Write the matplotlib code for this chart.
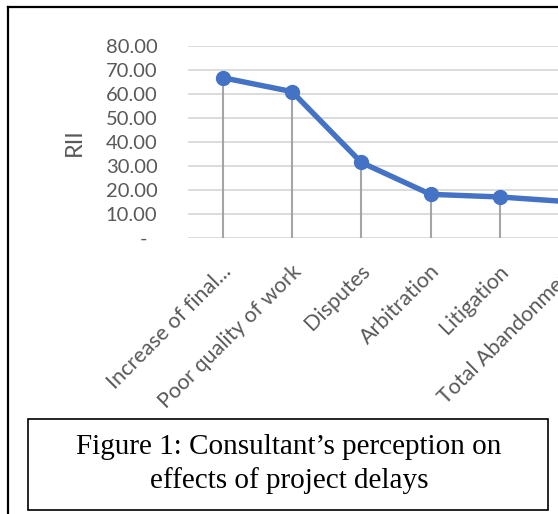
import matplotlib
matplotlib.use('Agg')
import matplotlib.pyplot as plt
import matplotlib.patches as patches
import matplotlib.transforms as mtransforms
from matplotlib.lines import Line2D

# Data
categorias = ['Increase of final...', 'Poor quality of work', 'Disputes',
              'Arbitration', 'Litigation', 'Total Abandonment']
rii = [66.8, 61.0, 31.5, 18.2, 17.1, 15.1]
yticks = [0, 10, 20, 30, 40, 50, 60, 70, 80]

W, H = 558, 514
fig = plt.figure(figsize=(W / 100, H / 100), dpi=100)
plt.rcParams['font.family'] = ['Lato', 'DejaVu Sans']

# axes in pixel coords (plot area runs past the right edge, as in the crop)
left_px, top_px, bottom_px = 188, 46, 238
step_px = 69.3
width_px = step_px * len(categorias)
ax = fig.add_axes([left_px / W, 1 - bottom_px / H, width_px / W, (bottom_px - top_px) / H])

x = list(range(len(categorias)))
ax.vlines(x, 0, rii, color='#A5A5A5', lw=1.5, zorder=2)
ax.plot(x, rii, color='#4472C4', lw=3.9, marker='o', ms=10, zorder=3,
        solid_capstyle='round')

ax.set_xlim(-0.5, len(categorias) - 0.5)
ax.set_ylim(0, 80)
ax.set_yticks(yticks)
ax.set_yticklabels(['-  '] + ['%.2f' % v for v in yticks[1:]])
ax.grid(axis='y', color='#D9D9D9', lw=1.3, zorder=0)
ax.set_axisbelow(True)
for s in ax.spines.values():
    s.set_visible(False)
ax.tick_params(axis='y', length=0, pad=22, labelsize=14.5, labelcolor='#595959')
ax.tick_params(axis='x', length=0, pad=0)
ax.set_xticks(x)
ax.set_xticklabels(categorias, rotation=45, ha='right', va='center',
                   rotation_mode='anchor', fontsize=15.5, color='#595959')
off = mtransforms.ScaledTranslation(6 / 100, -30 / 100, fig.dpi_scale_trans)
for lab in ax.get_xticklabels():
    lab.set_transform(lab.get_transform() + off)

fig.text(74 / W, 1 - 142 / H, 'RII', rotation=90, ha='center', va='center',
         fontsize=17, color='#595959')

# outer frame (left and top edges visible)
fig.add_artist(Line2D([7.5 / W, 7.5 / W], [0, 1 - 7 / H], color='black', lw=1.6))
fig.add_artist(Line2D([7.5 / W, 1], [1 - 7 / H, 1 - 7 / H], color='black', lw=1.6))

# caption box
fig.add_artist(patches.Rectangle((28 / W, 1 - 510 / H), (548 - 28) / W, (510 - 419) / H,
                                 transform=fig.transFigure, fill=False,
                                 edgecolor='black', lw=1.2))
fig.text(289 / W, 1 - 464 / H, 'Figure 1: Consultant\u2019s perception on\neffects of project delays',
         ha='center', va='center', fontsize=21, family='Liberation Serif',
         linespacing=1.3, color='black')

fig.savefig('out.png', dpi=100)
